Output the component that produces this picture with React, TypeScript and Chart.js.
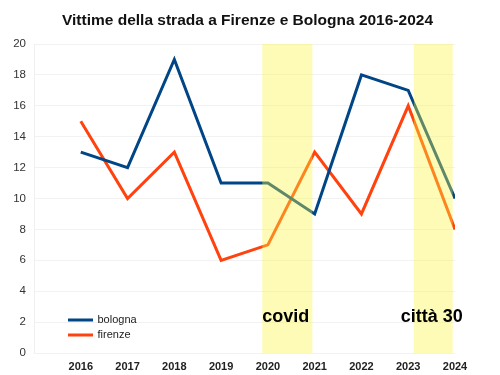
import React, { useEffect, useRef } from "react";
import { Chart, registerables } from "chart.js";

Chart.register(...registerables);

const years = [2016, 2017, 2018, 2019, 2020, 2021, 2022, 2023, 2024];
const bologna = [13, 12, 19, 11, 11, 9, 18, 17, 10];
const firenze = [15, 10, 13, 6, 7, 13, 9, 16, 8];
const bandStart = [2019.88, 2023.12];
const bandEnd = [2020.95, 2023.95];
const bandLabels = ["covid", "città 30"];
const bandLabelX = [2019.88, 2022.84];
const bandLabelY = 2;
const titleText = "Vittime della strada a Firenze e Bologna 2016-2024";

const FONT = "'Liberation Sans', Arial, sans-serif";

const overlayPlugin = {
  id: "overlay",
  afterDatasetsDraw(chart: any) {
    const ctx = chart.ctx;
    const xs = chart.scales.x;
    const ys = chart.scales.y;
    const top = ys.getPixelForValue(20);
    const bottom = ys.getPixelForValue(0);
    ctx.save();
    ctx.fillStyle = "rgba(250,245,60,0.38)";
    for (let i = 0; i < bandStart.length; i++) {
      const x0 = xs.getPixelForValue(bandStart[i]);
      const x1 = xs.getPixelForValue(bandEnd[i]);
      ctx.fillRect(x0, top, x1 - x0, bottom - top);
    }
    ctx.fillStyle = "#000";
    ctx.font = `bold 18px ${FONT}`;
    ctx.textAlign = "left";
    ctx.textBaseline = "alphabetic";
    for (let i = 0; i < bandLabels.length; i++) {
      ctx.fillText(bandLabels[i], xs.getPixelForValue(bandLabelX[i]), ys.getPixelForValue(bandLabelY));
    }
    // legend
    const ds = chart.data.datasets;
    ctx.font = `11px ${FONT}`;
    ctx.textBaseline = "middle";
    for (let i = 0; i < ds.length; i++) {
      const y = 320 + i * 15;
      ctx.strokeStyle = ds[i].borderColor;
      ctx.lineWidth = 3;
      ctx.beginPath();
      ctx.moveTo(68, y);
      ctx.lineTo(93, y);
      ctx.stroke();
      ctx.fillStyle = "#222";
      ctx.fillText(ds[i].label, 97.5, y);
    }
    // title
    ctx.font = `bold 15.5px ${FONT}`;
    ctx.textAlign = "center";
    ctx.textBaseline = "middle";
    ctx.fillStyle = "#111";
    ctx.fillText(titleText, 247.5, 21);
    ctx.restore();
  },
};

export default function App() {
  const ref = useRef<HTMLCanvasElement>(null);
  useEffect(() => {
    document.body.style.margin = "0";
    const chart = new Chart(ref.current!, {
      type: "line",
      data: {
        datasets: [
          {
            label: "bologna",
            data: years.map((y, i) => ({ x: y, y: bologna[i] })),
            borderColor: "#004586",
            backgroundColor: "#004586",
            borderWidth: 3,
            pointRadius: 0,
            tension: 0,
          },
          {
            label: "firenze",
            data: years.map((y, i) => ({ x: y, y: firenze[i] })),
            borderColor: "#ff420e",
            backgroundColor: "#ff420e",
            borderWidth: 3,
            pointRadius: 0,
            tension: 0,
          },
        ],
      },
      options: {
        animation: false,
        responsive: false,
        layout: { padding: { top: 44, right: 45, left: 0, bottom: 0 } },
        plugins: {
          legend: { display: false },
          title: { display: false },
          tooltip: { enabled: false },
        },
        scales: {
          x: {
            type: "linear",
            min: 2015,
            max: 2024,
            ticks: {
              stepSize: 1,
              autoSkip: false,
              maxRotation: 0,
              padding: 7,
              color: "#222",
              font: { family: FONT, size: 11, weight: "bold" },
              callback: (v: any) => (v >= 2016 ? String(v) : ""),
            },
            grid: { display: false, drawTicks: false },
            border: { display: false },
            afterFit: (s: any) => {
              s.height = 22;
            },
          },
          y: {
            min: 0,
            max: 20,
            ticks: {
              stepSize: 2,
              padding: 8,
              color: "#333",
              font: { family: FONT, size: 11.5 },
            },
            grid: { color: "#f2f2f2", drawTicks: false },
            border: { color: "#f0f0f0" },
            afterFit: (s: any) => {
              s.width = 34;
            },
          },
        },
      },
      plugins: [overlayPlugin],
    });
    return () => chart.destroy();
  }, []);
  return (
    <div style={{ position: "absolute", left: 0, top: 0, width: 500, height: 375 }}>
      <canvas ref={ref} width={500} height={375} />
    </div>
  );
}
